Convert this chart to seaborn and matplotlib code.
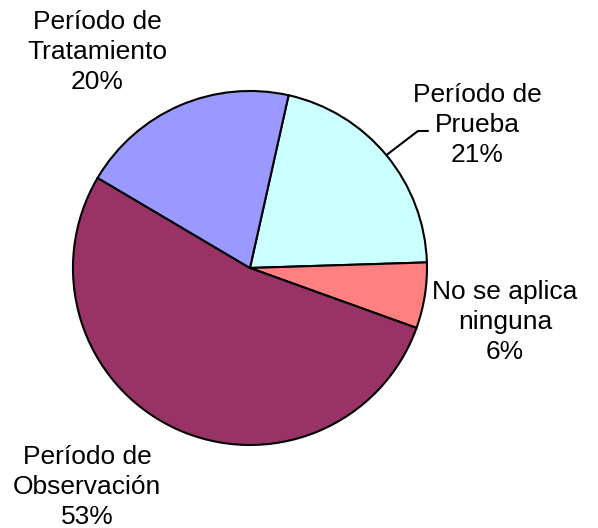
import matplotlib.pyplot as plt
import numpy as np
import seaborn as sns

categories = ["Período de\nPrueba", "No se aplica\nninguna", "Período de\nObservación", "Período de\nTratamiento"]
values = [21, 6, 53, 20]
colors = ["#CCFFFF", "#FF8080", "#993366", "#9999FF"]
# label centres, in units of the pie radius
label_pos = [(1.282, 0.808), (1.441, -0.305), (-0.921, -1.237), (-0.864, 1.22)]

sns.set_theme(style="white")
plt.rcParams["font.family"] = ["Liberation Sans", "DejaVu Sans"]

fig = plt.figure(figsize=(5.98, 5.28), dpi=100)
ax = fig.add_axes([0, 0, 1, 1])
ax.set_aspect("equal")

wedges, _ = ax.pie(values, colors=sns.color_palette(colors), startangle=77.4,
                   counterclock=False, radius=1,
                   wedgeprops={"edgecolor": "black", "linewidth": 1.5})

for w, cat, v, (lx, ly) in zip(wedges, categories, values, label_pos):
    ax.text(lx, ly, f"{cat}\n{v}%", ha="center", va="center",
            fontsize=19, color="black", linespacing=1.33)

# leader line for the Prueba slice
w = wedges[0]
mid = np.deg2rad((w.theta1 + w.theta2) / 2)
ex, ey = np.cos(mid), np.sin(mid)
ax.plot([ex, 0.949, 1.006], [ey, 0.774, 0.774], color="black", lw=1.5)

ax.set_xlim(-1.412, 1.966)
ax.set_ylim(-1.469, 1.514)
ax.axis("off")
fig.savefig("out.png", dpi=100)
